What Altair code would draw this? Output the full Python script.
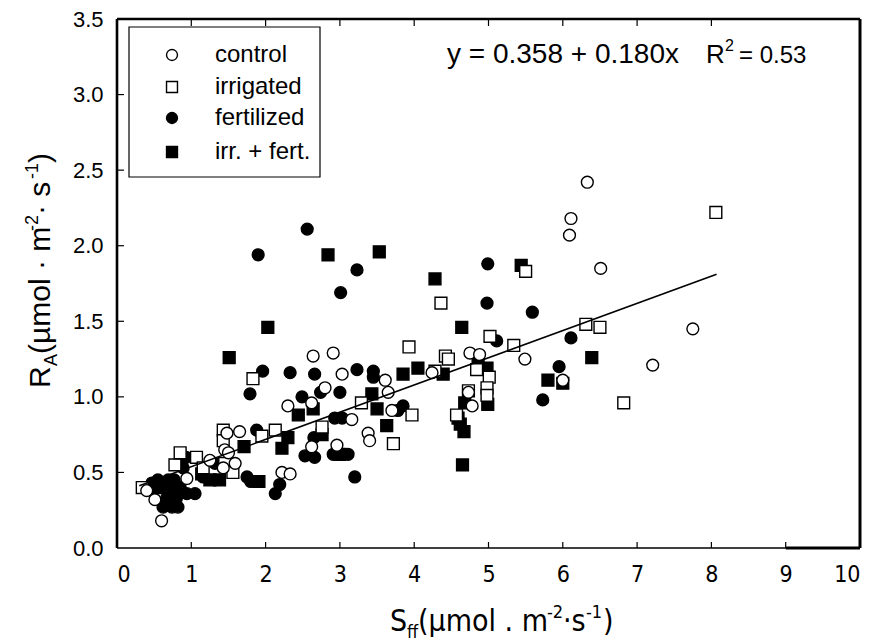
import altair as alt
import pandas as pd

# ---------------- data ----------------
groups = ["control", "irrigated", "fertilized", "irr. + fert."]

ctrl_x = [0.40, 0.51, 0.60, 0.94, 1.25, 1.43, 1.59, 1.48, 1.65, 1.45, 1.50, 2.22, 2.33, 2.30,
          2.62, 2.64, 2.91, 3.03, 2.80, 2.96, 2.62, 3.16, 3.38, 3.40, 3.61, 3.65, 3.70, 4.24,
          4.75, 4.88, 4.73, 4.78, 5.49, 6.00, 6.33, 6.11, 6.09, 6.51, 7.75, 7.21]
ctrl_y = [0.38, 0.32, 0.18, 0.46, 0.58, 0.53, 0.56, 0.76, 0.77, 0.65, 0.63, 0.50, 0.49, 0.94,
          0.96, 1.27, 1.29, 1.15, 1.06, 0.68, 0.67, 0.85, 0.76, 0.71, 1.11, 1.03, 0.91, 1.16,
          1.29, 1.28, 1.03, 0.94, 1.25, 1.11, 2.42, 2.18, 2.07, 1.85, 1.45, 1.21]

irr_x = [0.34, 0.78, 0.85, 1.07, 1.16, 1.43, 1.43, 1.45, 1.56, 1.83, 1.95, 2.13, 2.76, 3.29,
         3.72, 3.97, 3.93, 4.28, 4.36, 4.42, 4.46, 4.57, 4.73, 4.84, 5.01, 4.98, 4.98, 5.02,
         5.34, 5.50, 6.31, 6.50, 6.82, 8.06]
irr_y = [0.40, 0.55, 0.63, 0.60, 0.53, 0.78, 0.71, 0.56, 0.50, 1.12, 0.74, 0.78, 0.80, 0.96,
         0.69, 0.88, 1.33, 1.17, 1.62, 1.27, 1.25, 0.88, 1.04, 1.18, 1.13, 1.06, 1.01, 1.40,
         1.34, 1.83, 1.48, 1.46, 0.96, 2.22]

fert_x = [0.47, 0.55, 0.62, 0.67, 0.74, 0.82, 0.69, 0.77, 0.89, 0.93, 0.94, 1.05, 1.32, 1.16,
          1.75, 1.80, 1.79, 1.88, 1.96, 1.90, 2.56, 3.23, 3.01, 2.19, 2.13, 2.33, 2.49, 2.66,
          2.74, 3.00, 2.93, 3.03, 2.65, 2.53, 2.66, 2.91, 3.11, 3.20, 3.23, 3.45, 3.45, 3.78,
          3.85, 4.99, 4.98, 5.59, 5.11, 6.11, 5.95, 5.73, 0.60, 0.72, 0.80, 0.85]
fert_y = [0.43, 0.45, 0.27, 0.33, 0.27, 0.27, 0.45, 0.45, 0.53, 0.60, 0.36, 0.36, 0.56, 0.47,
          0.47, 0.44, 1.02, 0.78, 1.17, 1.94, 2.11, 1.84, 1.69, 0.42, 0.36, 1.16, 1.00, 1.15,
          1.03, 1.03, 0.86, 0.86, 0.73, 0.61, 0.60, 0.62, 0.62, 0.47, 1.18, 1.17, 1.13, 0.91,
          0.94, 1.88, 1.62, 1.56, 1.37, 1.39, 1.20, 0.98, 0.40, 0.38, 0.33, 0.40]

both_x = [1.14, 1.25, 1.38, 1.51, 1.71, 1.91, 2.03, 2.84, 3.53, 2.22, 2.30, 2.44, 2.64, 2.76,
          3.00, 3.43, 3.50, 3.63, 3.85, 4.05, 4.28, 4.39, 4.64, 4.86, 4.98, 4.99, 4.68, 4.59,
          4.62, 4.67, 4.65, 5.44, 5.80, 6.00, 6.39, 0.70, 0.52]
both_y = [0.49, 0.45, 0.45, 1.26, 0.67, 0.44, 1.46, 1.94, 1.96, 0.66, 0.73, 0.88, 0.92, 0.75,
          0.62, 1.02, 0.92, 0.81, 1.15, 1.19, 1.78, 1.15, 1.46, 1.22, 1.19, 0.95, 0.96, 0.86,
          0.82, 0.77, 0.55, 1.87, 1.11, 1.09, 1.26, 0.40, 0.40]

fit_x = [0.30, 8.07]
fit_y = [0.412, 1.811]

x_ticks = [0, 1, 2, 3, 4, 5, 6, 7, 8, 9, 10]
y_ticks = [0.0, 0.5, 1.0, 1.5, 2.0, 2.5, 3.0, 3.5]
x_minor_bottom = [1, 2, 3, 4, 5, 6, 7, 8, 9]
x_minor_top = [1, 2, 3, 4, 5, 6, 7, 8]
y_minor_left = [0.5, 1.0, 1.5, 2.0, 2.5, 3.0]

# ---------------- layout constants ----------------
W, H = 743, 529
TOP = 11
SANS = "Liberation Sans"
NARROW = "DejaVu Sans Condensed"

frames = []
for name, xs, ys in [("fertilized", fert_x, fert_y), ("irr. + fert.", both_x, both_y),
                     ("irrigated", irr_x, irr_y), ("control", ctrl_x, ctrl_y)]:
    frames.append(pd.DataFrame({"x": xs, "y": ys, "group": name}))
df = pd.concat(frames, ignore_index=True)

xscale = alt.Scale(domain=[0, 10], nice=False, zero=False)
yscale = alt.Scale(domain=[0, 3.5], nice=False, zero=False)
shape_scale = alt.Scale(domain=groups, range=["circle", "square", "circle", "square"])
fill_scale = alt.Scale(domain=groups, range=["white", "white", "black", "black"])

x_axis = alt.Axis(values=x_ticks, format="d", title=None, domain=False, ticks=False, grid=False,
                  labelFont=NARROW, labelFontSize=23, labelColor="black", labelPadding=15)
y_axis = alt.Axis(values=y_ticks, format=".1f", title=None, domain=False, ticks=False, grid=False,
                  labelFont=SANS, labelFontSize=22, labelColor="black", labelPadding=14)


def X(field):
    return alt.X(field, scale=xscale, axis=x_axis)


def Y(field):
    return alt.Y(field, scale=yscale, axis=y_axis)


points = alt.Chart(df).mark_point(filled=True, stroke="black", strokeWidth=1.4, size=140, opacity=1).encode(
    x=X("x:Q"), y=Y("y:Q"),
    shape=alt.Shape("group:N", scale=shape_scale, legend=None),
    fill=alt.Fill("group:N", scale=fill_scale, legend=None),
)

fit = alt.Chart(pd.DataFrame({"x": fit_x, "y": fit_y})).mark_line(color="black", strokeWidth=1.6).encode(
    x=X("x:Q"), y=Y("y:Q"))


# frame
def hrule(x0, x1, y0, sw):
    return alt.Chart(pd.DataFrame({"a": [0]})).mark_rule(color="black", strokeWidth=sw).encode(
        x=alt.value(x0), x2=alt.value(x1), y=alt.value(y0))


def vrule(x0, y0, y1, sw):
    return alt.Chart(pd.DataFrame({"a": [0]})).mark_rule(color="black", strokeWidth=sw).encode(
        x=alt.value(x0), y=alt.value(y0), y2=alt.value(y1))


frame = [hrule(0, W, 0, 2.6), vrule(0, 0, H, 2.6), vrule(W, 0, H, 3), hrule(0, W, H, 1.4)]
thick_bottom = alt.Chart(pd.DataFrame({"x": [9], "b": [10]})).mark_rule(color="black", strokeWidth=3).encode(
    x=X("x:Q"), x2="b:Q", y=alt.value(H))

tb = alt.Chart(pd.DataFrame({"x": x_minor_bottom})).mark_rule(color="black", strokeWidth=1.2).encode(
    x=X("x:Q"), y=alt.value(H - 6), y2=alt.value(H))
tt = alt.Chart(pd.DataFrame({"x": x_minor_top})).mark_rule(color="black", strokeWidth=1.2).encode(
    x=X("x:Q"), y=alt.value(0), y2=alt.value(7))
tl = alt.Chart(pd.DataFrame({"y": y_minor_left})).mark_rule(color="black", strokeWidth=1.2).encode(
    y=Y("y:Q"), x=alt.value(0), x2=alt.value(7))

# legend box (pixel offsets relative to plot top, corrected for TOP)
dy = 9 - TOP
leg_box = alt.Chart(pd.DataFrame({"a": [0]})).mark_rect(fill="white", stroke="black", strokeWidth=1.2).encode(
    x=alt.value(12), x2=alt.value(203), y=alt.value(10 + dy), y2=alt.value(160 + dy))
leg_layers = [leg_box]
row_y = [38, 70, 101, 135]
for g, ry in zip(groups, row_y):
    ldf = pd.DataFrame({"group": [g]})
    leg_layers.append(alt.Chart(ldf).mark_point(filled=True, stroke="black", strokeWidth=1.4, size=120, opacity=1).encode(
        x=alt.value(55), y=alt.value(ry + dy),
        shape=alt.Shape("group:N", scale=shape_scale, legend=None),
        fill=alt.Fill("group:N", scale=fill_scale, legend=None)))
    leg_layers.append(alt.Chart(ldf).mark_text(align="left", baseline="middle", font=SANS, fontSize=24, color="black").encode(
        x=alt.value(98), y=alt.value(ry + dy), text="group:N"))


def txt(s, x, y, size, font=SANS, angle=0, align="left", baseline="alphabetic"):
    kw = dict(text=s, font=font, fontSize=size, color="black", align=align, baseline=baseline)
    if angle:
        kw["angle"] = angle
    return alt.Chart(pd.DataFrame({"a": [0]})).mark_text(**kw).encode(x=alt.value(x), y=alt.value(y + dy))


# equation
eq = [txt("y = 0.358 + 0.180x", 330, 46, 28),
      txt("R", 589, 46, 26), txt("2", 608, 34, 16), txt("= 0.53", 622, 46, 24)]

# y title (rotated)
ytitle = [txt("R", -67, 371, 30, angle=270),
          txt("A", -60, 349, 18, angle=270),
          txt(" (\u00b5mol \u00b7 m", -67, 337, 30, angle=270),
          txt("-2", -79, 214, 18, angle=270),
          txt(" \u00b7 s", -67, 198, 30, angle=270),
          txt("-1", -79, 162, 18, angle=270),
          txt(")", -67, 146, 30, angle=270)]

# x title
xtitle = [txt("S", 273, 614, 30, font=NARROW),
          txt("ff", 290, 621, 18, font=NARROW),
          txt(" (\u00b5mol . m", 301, 614, 30, font=NARROW),
          txt("-2", 430, 601, 18, font=NARROW),
          txt("\u00b7s", 446, 614, 30, font=NARROW),
          txt("-1", 469, 601, 18, font=NARROW),
          txt(")", 486, 614, 30, font=NARROW)]

chart = alt.layer(points, fit, *frame, thick_bottom, tb, tt, tl, *leg_layers, *eq, *ytitle, *xtitle).properties(
    width=W, height=H,
    padding={"left": 109, "top": TOP, "right": 6, "bottom": 100},
    autosize=alt.AutoSizeParams(type="none"),
).configure_view(stroke=None)

chart.save("out.html", embed_options={"renderer": "svg", "actions": False})
